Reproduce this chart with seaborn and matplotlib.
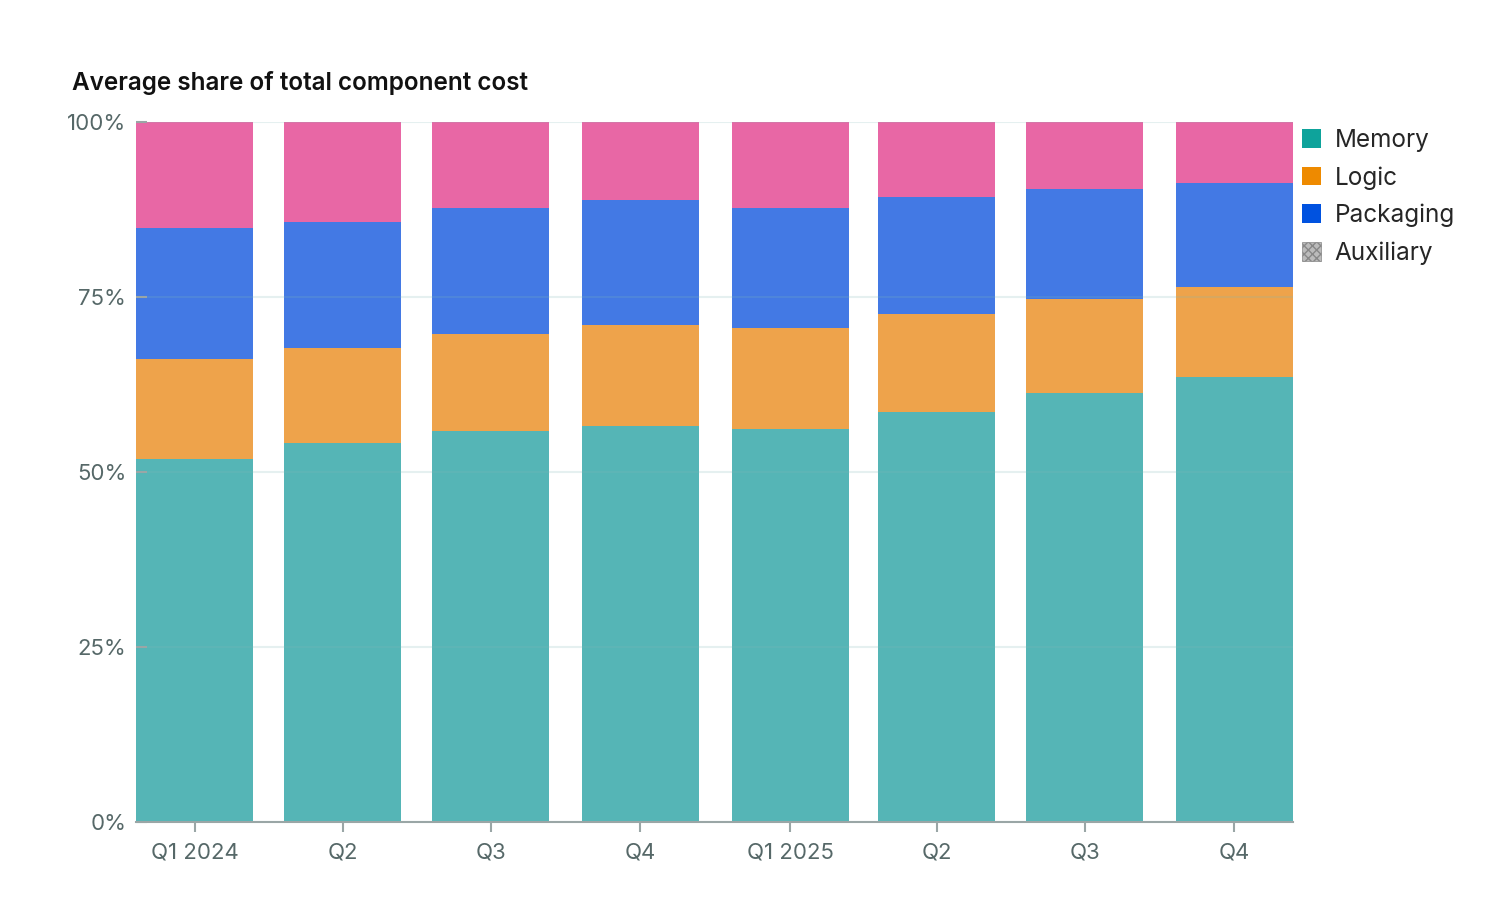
import pandas as pd
import matplotlib.pyplot as plt
import matplotlib.patches as mpatches
import seaborn as sns

# data (percent of total component cost)
quarters = ['Q1 2024', 'Q2', 'Q3', 'Q4', 'Q1 2025', 'Q2', 'Q3', 'Q4']
quarter_starts = ['2024-01-01', '2024-04-01', '2024-07-01', '2024-10-01',
                  '2025-01-01', '2025-04-01', '2025-07-01', '2025-10-01']
memory = [51.9, 54.1, 55.9, 56.6, 56.1, 58.6, 61.3, 63.6]
logic = [14.2, 13.6, 13.8, 14.4, 14.5, 14.0, 13.4, 12.8]
packaging = [18.8, 18.0, 18.0, 17.9, 17.1, 16.7, 15.7, 14.9]
auxiliary = [15.1, 14.3, 12.3, 11.1, 12.3, 10.7, 9.6, 8.7]

series = ['Memory', 'Logic', 'Packaging', 'Auxiliary']
bar_colors = ['#55b5b6', '#eea34b', '#4379e4', '#e867a5']
legend_colors = ['#0ea39b', '#ee8a00', '#0052e0', '#e867a5']

sns.set_theme(style='white')
plt.rcParams['font.family'] = ['Inter', 'DejaVu Sans']

dates = pd.to_datetime(quarter_starts)
days = (dates - dates[0]).days.values

df = pd.DataFrame({'day': days, 'Memory': memory, 'Logic': logic,
                   'Packaging': packaging, 'Auxiliary': auxiliary})
# cumulative tops for the stacked bars
cum = df[series].cumsum(axis=1)

fig = plt.figure(figsize=(14.88, 9), dpi=100)
ax = fig.add_axes([0.0914, 0.0867, 0.7776, 0.7777])

# draw from the tallest layer down so the lower ones sit on top
for name, color in zip(series[::-1], bar_colors[::-1]):
    sns.barplot(x=df['day'], y=cum[name], native_scale=True, width=0.8,
                color=color, saturation=1, linewidth=0, ax=ax, zorder=2)

ax.set_xlim(days[0] - 36, days[-1] + 36)
ax.set_ylim(0, 100)
ax.set_xticks(days)
ax.set_xticklabels(quarters)
ax.set_yticks([0, 25, 50, 75, 100])
ax.set_yticklabels(['0%', '25%', '50%', '75%', '100%'])
ax.set_xlabel('')
ax.set_ylabel('')

# grid sits faintly over the bars, like the reference
ax.set_axisbelow(False)
ax.grid(axis='y', color='#7fb8b8', alpha=0.2, linewidth=1.5)
for s in ['left', 'right', 'top']:
    ax.spines[s].set_visible(False)
ax.spines['bottom'].set_color('#9aa6a6')
ax.spines['bottom'].set_linewidth(1.5)
ax.spines['bottom'].set_zorder(3)

ax.tick_params(axis='x', direction='out', length=7.5, width=1.5, color='#9aa6a6',
               labelsize=16, labelcolor='#566868', pad=7, bottom=True)
ax.tick_params(axis='y', direction='in', length=8, width=1.5, color='#9aa6a6',
               labelsize=16, labelcolor='#566868', pad=7, left=True)

fig.text(72 / 1488, 1 - 83 / 900, 'Average share of total component cost',
         fontsize=17.5, fontweight='semibold', color='#111111', va='center', ha='left')

handles = []
for name, color in zip(series, legend_colors):
    if name == 'Auxiliary':
        handles.append(mpatches.Patch(facecolor='#bbbbbb', edgecolor='#888888',
                                      hatch='xxxx', linewidth=0.5, label=name))
    else:
        handles.append(mpatches.Patch(facecolor=color, edgecolor='none', label=name))
fig.legend(handles=handles, loc='upper left', bbox_to_anchor=(1302 / 1488, 1 - 129 / 900),
           frameon=False, fontsize=17.5, handlelength=0.8, handleheight=0.8,
           handletextpad=0.55, labelspacing=0.58, borderaxespad=0, borderpad=0)

fig.savefig('out.png', dpi=100)
